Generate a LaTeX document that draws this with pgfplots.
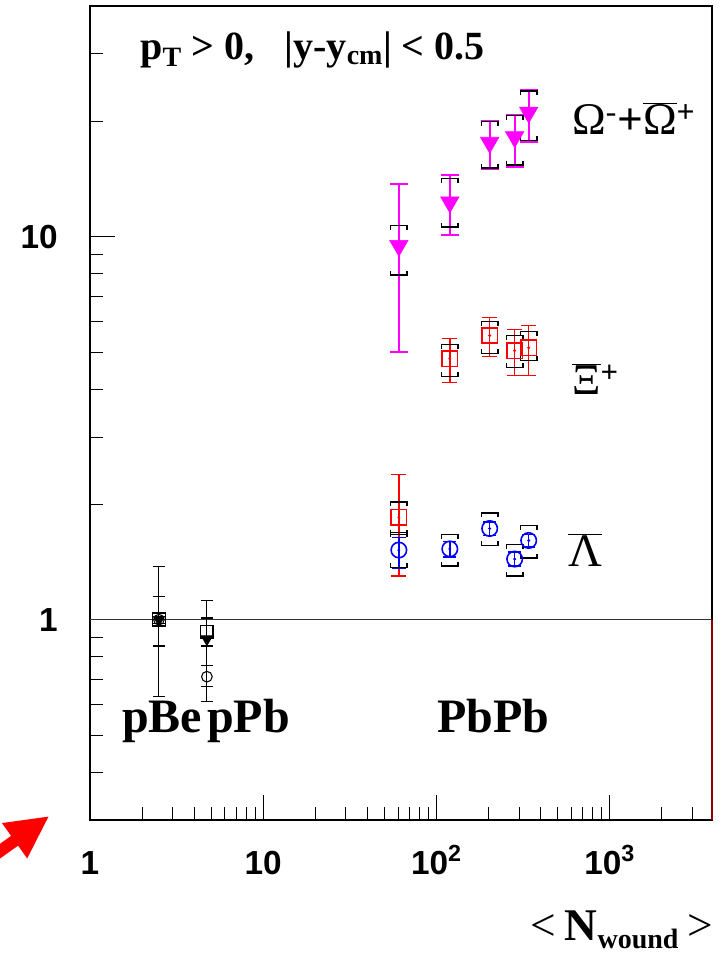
\documentclass[border=0pt]{standalone}
\usepackage{fontspec}
\setmainfont{Liberation Serif}
\newfontfamily\hv{Liberation Sans}
\usepackage{pgfplots}
\usepackage{pgfplotstable}
\pgfplotsset{compat=1.18}
\usetikzlibrary{arrows.meta}
\definecolor{mag}{RGB}{255,0,255}
\definecolor{rd}{RGB}{255,0,0}
\definecolor{bl}{RGB}{0,0,255}

% systematic-error brackets
\pgfdeclareplotmark{bru}{%
  \pgfpathmoveto{\pgfqpoint{-6.2pt}{-3.2pt}}%
  \pgfpathlineto{\pgfqpoint{-6.2pt}{0pt}}%
  \pgfpathlineto{\pgfqpoint{6.2pt}{0pt}}%
  \pgfpathlineto{\pgfqpoint{6.2pt}{-3.2pt}}%
  \pgfusepathqstroke}
\pgfdeclareplotmark{brl}{%
  \pgfpathmoveto{\pgfqpoint{-6.2pt}{3.2pt}}%
  \pgfpathlineto{\pgfqpoint{-6.2pt}{0pt}}%
  \pgfpathlineto{\pgfqpoint{6.2pt}{0pt}}%
  \pgfpathlineto{\pgfqpoint{6.2pt}{3.2pt}}%
  \pgfusepathqstroke}

\pgfplotstableread{
x y ep em sh sl
60.7 9.47 4.23 4.47 10.7 7.95
119.5 12.3 2.2 2.2 14.2 10.6
203 17.6 2.4 2.6 20.0 15.1
283 18.2 2.6 3.0 20.7 15.4
341 21.1 3.1 3.4 24.0 17.8
}\omegatab

\pgfplotstableread{
x y ep em sh sl
60.7 1.85 0.54 0.55 2.03 1.67
119.5 4.80 0.62 0.64 5.23 4.31
203 5.52 0.63 0.66 6.00 4.95
283 5.04 0.68 0.70 5.52 4.55
341 5.13 0.73 0.79 5.65 4.75
}\xitab

\pgfplotstableread{
x y ep em sh sl
60.7 1.52 0.12 0.16 1.69 1.37
119.5 1.53 0.07 0.07 1.67 1.38
203 1.73 0.07 0.07 1.90 1.56
283 1.44 0.06 0.06 1.57 1.30
341 1.61 0.06 0.06 1.76 1.45
}\lambdatab

\pgfplotstableread{
x y ep em
2.50 1.00 0.38 0.37
4.73 0.89 0.23 0.28
}\ptri

\pgfplotstableread{
x y ep em
2.50 1.00 0.15 0.145
4.73 0.93 0.08 0.075
}\psq

\pgfplotstableread{
x y ep em
2.50 1.00 0.02 0.02
4.73 0.71 0.05 0.04
}\pcirc

\begin{document}
\begin{tikzpicture}
\useasboundingbox (-67.5pt,-104.25pt) rectangle (476.25pt,615pt);
\begin{axis}[
  at={(0pt,0pt)}, anchor=south west,
  scale only axis, width=466.5pt, height=610.5pt,
  xmode=log, ymode=log,
  xmin=1, xmax=3900, ymin=0.3, ymax=40,
  axis line style={line width=1pt},
  every tick/.style={black, line width=0.6pt},
  major tick length=18.5pt, minor tick length=9.5pt,
  tick align=inside, tick pos=left,
  xtick={1,10,100,1000},
  xticklabels={1,10,10\textsuperscript{2},10\textsuperscript{3}},
  minor xtick={2,3,4,5,6,7,8,9,20,30,40,50,60,70,80,90,200,300,400,500,600,700,800,900,2000,3000},
  ytick={1,10}, yticklabels={1,10},
  minor ytick={0.3,0.4,0.5,0.6,0.7,0.8,0.9,2,3,4,5,6,7,8,9,20,30,40},
  xticklabel style={font=\hv\bfseries\fontsize{25}{27}\selectfont, anchor=base, inner sep=0pt, yshift=-40.5pt},
  yticklabel style={font=\hv\bfseries\fontsize{25}{27}\selectfont, anchor=east, inner sep=0pt, xshift=-24pt},
  clip=false,
]
% reference line at 1
\addplot[black!80, line width=0.6pt] coordinates {(1,1) (3900,1)};

% --- Omega ---
\addplot[only marks, mark=bru, black, line width=1.1pt] table[x=x,y=sh]{\omegatab};
\addplot[only marks, mark=brl, black, line width=1.1pt] table[x=x,y=sl]{\omegatab};
\addplot[only marks, mag, mark=triangle*, mark size=8pt,
  mark options={rotate=180, fill=mag},
  error bars/.cd, y dir=both, y explicit,
  error bar style={mag, line width=1.5pt},
  error mark options={rotate=90, mag, line width=1.5pt, mark size=6.75pt}]
  table[x=x,y=y,y error plus=ep,y error minus=em]{\omegatab};

% --- Xi ---
\addplot[only marks, mark=bru, black, line width=1.1pt] table[x=x,y=sh]{\xitab};
\addplot[only marks, mark=brl, black, line width=1.1pt] table[x=x,y=sl]{\xitab};
\addplot[only marks, rd, mark=square, mark size=5.8pt,
  mark options={line width=1.2pt, fill=white},
  error bars/.cd, y dir=both, y explicit,
  error bar style={rd, line width=1.1pt},
  error mark options={rotate=90, rd, line width=1.1pt, mark size=5.6pt}]
  table[x=x,y=y,y error plus=ep,y error minus=em]{\xitab};
\addplot[only marks, rd, mark=*, mark size=0.9pt] table[x=x,y=y]{\xitab};

% --- Lambda ---
\addplot[only marks, mark=bru, black, line width=1.1pt] table[x=x,y=sh]{\lambdatab};
\addplot[only marks, mark=brl, black, line width=1.1pt] table[x=x,y=sl]{\lambdatab};
\addplot[only marks, bl, mark=o, mark size=5.8pt,
  mark options={line width=1.2pt, fill=white},
  error bars/.cd, y dir=both, y explicit,
  error bar style={bl, line width=1.1pt},
  error mark options={rotate=90, bl, line width=1.3pt, mark size=5pt}]
  table[x=x,y=y,y error plus=ep,y error minus=em]{\lambdatab};
\addplot[only marks, bl, mark=*, mark size=0.9pt] table[x=x,y=y]{\lambdatab};

% --- pBe / pPb ---
\addplot[only marks, black, mark=square, mark size=4.8pt,
  mark options={line width=1.2pt},
  error bars/.cd, y dir=both, y explicit,
  error bar style={black, line width=0.8pt},
  error mark options={rotate=90, black, line width=1.2pt, mark size=4.5pt}]
  table[x=x,y=y,y error plus=ep,y error minus=em]{\psq};
\addplot[only marks, black, mark=triangle*, mark size=5pt,
  mark options={rotate=180, fill=black},
  error bars/.cd, y dir=both, y explicit,
  error bar style={black, line width=0.8pt},
  error mark options={rotate=90, black, line width=0.8pt, mark size=4.5pt}]
  table[x=x,y=y,y error plus=ep,y error minus=em]{\ptri};
\addplot[only marks, black, mark=o, mark size=4pt,
  mark options={line width=0.8pt},
  error bars/.cd, y dir=both, y explicit,
  error bar style={black, line width=0.8pt},
  error mark options={rotate=90, black, line width=0.8pt, mark size=4.5pt}]
  table[x=x,y=y,y error plus=ep,y error minus=em]{\pcirc};

\draw[red!55!black, line width=1pt] (axis cs:3900,0.3) -- (axis cs:3900,1);
\end{axis}

% labels
\node[anchor=base west, inner sep=0pt, font=\bfseries\fontsize{30}{36}\selectfont]
  at (37.5pt,570pt) {p\textsubscript{T} > 0,\hspace{0.75em}|y-y\textsubscript{cm}| < 0.5};
\node[anchor=base west, inner sep=0pt, font=\fontsize{34}{38}\selectfont]
  at (361.5pt,513.75pt) {Ω\textsuperscript{-}\textbf{+}$\overline{\hbox{Ω}}$\textsuperscript{\textbf{+}}};
\node[anchor=base west, inner sep=0pt, font=\fontsize{33}{38}\selectfont]
  at (361.5pt,318.75pt) {$\overline{\hbox{Ξ}}$\textsuperscript{\textbf{+}}};
\node[anchor=base west, inner sep=0pt, font=\fontsize{35}{38}\selectfont]
  at (358.5pt,189.75pt) {$\overline{\hbox{Λ}}$};
\node[anchor=base west, inner sep=0pt, font=\bfseries\fontsize{36}{40}\selectfont]
  at (24pt,65.25pt) {pBe};
\node[anchor=base west, inner sep=0pt, font=\bfseries\fontsize{36}{40}\selectfont]
  at (87.75pt,65.25pt) {pPb};
\node[anchor=base west, inner sep=0pt, font=\bfseries\fontsize{36}{40}\selectfont]
  at (260.25pt,65.25pt) {PbPb};
\node[anchor=base west, inner sep=0pt, font=\fontsize{34}{38}\selectfont]
  at (330pt,-90pt) {<\hspace{0.2em}\textbf{N}\raisebox{-6.5pt}{\fontsize{21}{24}\selectfont\bfseries wound}\hspace{0.2em}>};

% red arrow
\draw[red, line width=9pt, -{Triangle[length=32pt, width=30pt]}] (-88pt,-38pt) -- (-30.5pt,3pt);
\end{tikzpicture}
\end{document}
